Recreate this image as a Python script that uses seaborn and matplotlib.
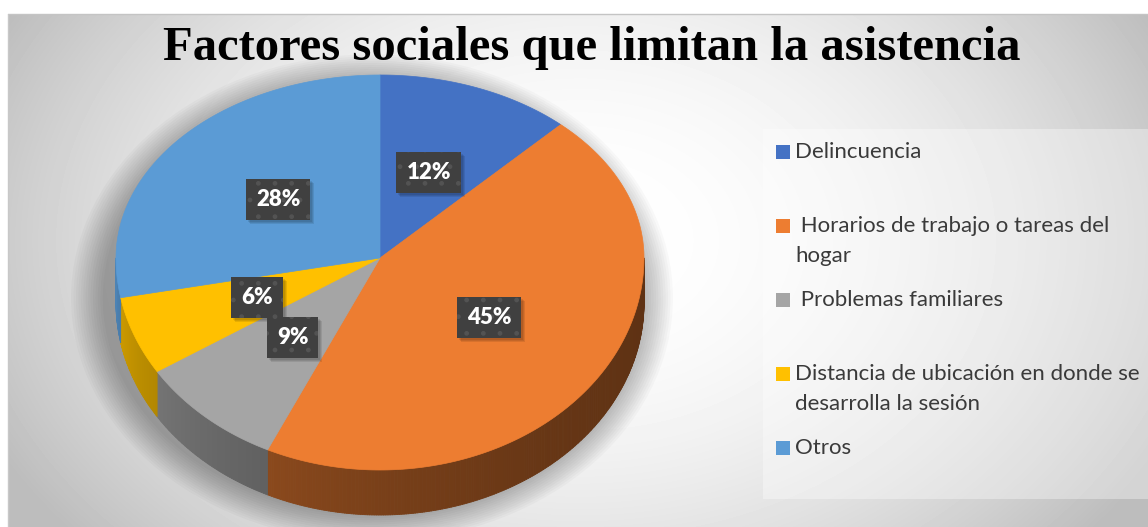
import numpy as np
import matplotlib
matplotlib.use("Agg")
import matplotlib.pyplot as plt
import seaborn as sns
from matplotlib.patches import Polygon, Rectangle, Ellipse
from matplotlib.collections import PolyCollection

# data
title = "Factores sociales que limitan la asistencia"
categories = [
    "Delincuencia",
    " Horarios de trabajo o tareas del\nhogar",
    " Problemas familiares",
    "Distancia de ubicación en donde se\ndesarrolla la sesión",
    "Otros",
]
values = [12, 45, 9, 6, 28]
colors = ["#4472C4", "#ED7D31", "#A5A5A5", "#FFC000", "#5B9BD5"]

sns.set_theme(style="white")
palette = sns.color_palette(colors)

# layout in pixels of the 1148x527 canvas
W, H = 1148, 527
CX, CY = 380, 258          # pie apex
RX, RY_BACK, RY_FRONT = 264, 183, 212
DEPTH = 45


def rim(t_deg, r=1.0):
    t = np.radians(t_deg)
    s = np.sin(t)
    ry = np.where(s >= 0, RY_BACK, RY_FRONT)
    return CX + RX * r * np.cos(t), CY - ry * r * s


fig = plt.figure(figsize=(W / 100, H / 100), dpi=100)
ax = fig.add_axes([0, 0, 1, 1])
ax.set_xlim(0, W)
ax.set_ylim(H, 0)
ax.axis("off")

# chart area background: soft radial gradient
yy, xx = np.mgrid[14:H, 8:W]
r2 = ((xx - 580) / 600.0) ** 2 + ((yy - 240) / 430.0) ** 2
shade = np.clip(1 - 0.22 * r2, 0.74, 1)
ax.imshow(shade, cmap="gray", vmin=0, vmax=1, extent=(8, W, H, 14),
          aspect="auto", zorder=0, interpolation="bilinear")
ax.plot([8, W], [14, 14], color="#c4c4c4", lw=1, zorder=1)
ax.plot([8, 8], [14, H], color="#c8c8c8", lw=1, zorder=1)

# soft shadow under the pie
for i in range(14):
    k = i / 13.0
    ax.add_patch(Ellipse((CX - 8, CY + 40), 2 * RX * (1.02 + 0.12 * k),
                         (RY_BACK + RY_FRONT) * (0.98 + 0.14 * k) + DEPTH,
                         fc="black", ec="none", alpha=0.022, zorder=2))

total = float(sum(values))
cum = np.concatenate([[0], np.cumsum(values)]) / total
starts = 90 - 360 * cum[:-1]
ends = 90 - 360 * cum[1:]

# pie side (front half only)
for s, e, col in zip(starts, ends, palette):
    lo, hi = max(e, -180), min(s, 0)
    if lo >= hi:
        continue
    ts = np.linspace(hi, lo, int((hi - lo) * 2) + 2)
    xs, ys = rim(ts)
    quads, fcs = [], []
    for j in range(len(ts) - 1):
        quads.append([(xs[j], ys[j]), (xs[j + 1], ys[j + 1]),
                      (xs[j + 1], ys[j + 1] + DEPTH), (xs[j], ys[j] + DEPTH)])
        tm = 0.5 * (ts[j] + ts[j + 1])
        f = 0.4 + 0.45 * (-tm / 180.0) ** 2
        fcs.append(np.clip(np.array(col) * f, 0, 1))
    ax.add_collection(PolyCollection(quads, facecolors=fcs, edgecolors=fcs,
                                     linewidths=0.6, zorder=3))

# pie top faces
for s, e, col in zip(starts, ends, palette):
    ts = np.linspace(s, e, 200)
    xs, ys = rim(ts)
    verts = [(CX, CY)] + list(zip(xs, ys))
    ax.add_patch(Polygon(verts, closed=True, fc=col, ec=col, lw=0.5, zorder=4))

# percentage labels
mids = 0.5 * (starts + ends)
label_texts = []
for m, v in zip(mids, values):
    lx, ly = rim(m, 0.5)
    t = ax.text(lx, ly, f"{v}%", ha="center", va="center", fontsize=16,
                fontweight="heavy", family="Lato", color="white", zorder=6,
                bbox=dict(boxstyle="square,pad=0.45", fc="#404040", ec="#535353",
                          lw=0, hatch="."))
    label_texts.append(t)

# drop shadows behind the label boxes
fig.canvas.draw()
inv = ax.transData.inverted()
for t in label_texts:
    ext = t.get_bbox_patch().get_window_extent()
    (x0, y0), (x1, y1) = inv.transform([[ext.x0, ext.y0], [ext.x1, ext.y1]])
    for g in range(3):
        ax.add_patch(Rectangle((min(x0, x1) + 2 + g, min(y0, y1) + 2 + g),
                               abs(x1 - x0), abs(y1 - y0), fc="black", ec="none",
                               alpha=0.09, zorder=5))

# title
ax.text(592, 48, title, ha="center", va="center", fontsize=35,
        fontweight="bold", family="Liberation Serif", color="black", zorder=7)

# legend
ax.add_patch(Rectangle((763, 129), W - 763, 370, fc="white", ec="none",
                       alpha=0.35, zorder=5))
for i, (lab, col) in enumerate(zip(categories, palette)):
    y0 = 152 + 74 * i
    ax.add_patch(Rectangle((776, y0 - 7), 14, 14, fc=col, ec="none", zorder=6))
    for j, line in enumerate(lab.split("\n")):
        ax.text(795, y0 + 29.5 * j, line, ha="left", va="center", fontsize=16,
                family="Lato", color="#3a3a3a", zorder=6)

fig.savefig("out.png", dpi=100, facecolor="white")
